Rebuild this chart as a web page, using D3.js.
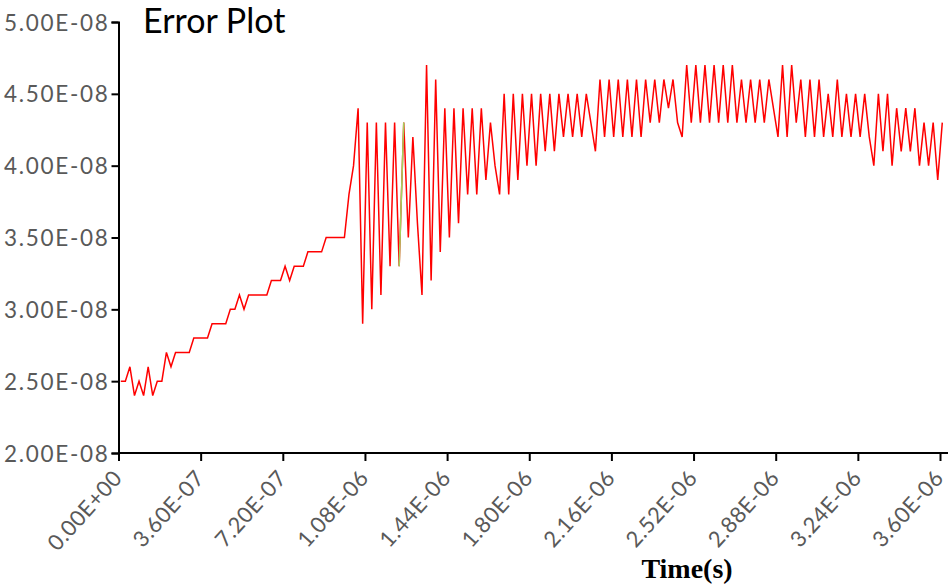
<!DOCTYPE html>
<html>
<head>
<meta charset="utf-8">
<script src="https://cdn.jsdelivr.net/npm/d3@7"></script>
<style>
  html, body { margin: 0; padding: 0; background: #fff; }
  svg { display: block; }
</style>
</head>
<body>
<svg id="chart" width="948" height="586"></svg>
<script>
// Error magnitude sampled every 20 ns (values in units of 1e-8)
const errorValues = [
  2.5, 2.5, 2.6, 2.4, 2.5, 2.4, 2.6, 2.4, 2.5, 2.5,
  2.7, 2.6, 2.7, 2.7, 2.7, 2.7, 2.8, 2.8, 2.8, 2.8,
  2.9, 2.9, 2.9, 2.9, 3.0, 3.0, 3.1, 3.0, 3.1, 3.1,
  3.1, 3.1, 3.1, 3.2, 3.2, 3.2, 3.3, 3.2, 3.3, 3.3,
  3.3, 3.4, 3.4, 3.4, 3.4, 3.5, 3.5, 3.5, 3.5, 3.5,
  3.8, 4.0, 4.4, 2.9, 4.3, 3.0, 4.3, 3.1, 4.3, 3.3,
  4.3, 3.3, 4.3, 3.5, 4.2, 3.6, 3.1, 4.7, 3.2, 4.6,
  3.4, 4.4, 3.5, 4.4, 3.6, 4.4, 3.8, 4.4, 3.8, 4.4,
  3.9, 4.3, 4.0, 3.8, 4.5, 3.8, 4.5, 3.9, 4.5, 4.0,
  4.5, 4.0, 4.5, 4.1, 4.5, 4.1, 4.5, 4.2, 4.5, 4.2,
  4.5, 4.2, 4.5, 4.3, 4.1, 4.6, 4.2, 4.6, 4.2, 4.6,
  4.2, 4.6, 4.2, 4.6, 4.2, 4.6, 4.3, 4.6, 4.3, 4.6,
  4.4, 4.6, 4.3, 4.2, 4.7, 4.3, 4.7, 4.3, 4.7, 4.3,
  4.7, 4.3, 4.7, 4.3, 4.7, 4.3, 4.6, 4.3, 4.6, 4.3,
  4.6, 4.3, 4.6, 4.4, 4.2, 4.7, 4.2, 4.7, 4.3, 4.6,
  4.2, 4.6, 4.2, 4.6, 4.2, 4.5, 4.2, 4.6, 4.2, 4.5,
  4.2, 4.5, 4.2, 4.5, 4.2, 4.0, 4.5, 4.1, 4.5, 4.0,
  4.4, 4.1, 4.4, 4.1, 4.4, 4.0, 4.3, 4.0, 4.3, 3.9,
  4.3
];
const valueUnit = 1e-8;
const timeStart = 1e-8;   // first sample time (s)
const timeStep = 2e-8;    // sampling interval (s)

// Axis ticks
const xTicks = [0, 3.6e-7, 7.2e-7, 1.08e-6, 1.44e-6, 1.8e-6, 2.16e-6, 2.52e-6, 2.88e-6, 3.24e-6, 3.6e-6];
const yTicks = [2.0e-8, 2.5e-8, 3.0e-8, 3.5e-8, 4.0e-8, 4.5e-8, 5.0e-8];

// Segment of the trace drawn in a second colour (sample indices)
const highlightSegment = [61, 62];

const chartTitle = "Error Plot";
const xTitle = "Time(s)";

const points = errorValues.map((v, i) => ({ t: timeStart + i * timeStep, v: v * valueUnit }));

const svg = d3.select("#chart");
const margin = { left: 118.5, top: 22, bottom: 453 };

const x = d3.scaleLinear().domain([0, 3.6e-6]).range([margin.left, 940]);
const y = d3.scaleLinear().domain([2e-8, 5e-8]).range([margin.bottom, margin.top]);

// Format 3.6e-7 -> "3.60E-07"
function sci(v) {
  if (v === 0) return "0.00E+00";
  const s = v.toExponential(2).toUpperCase();
  const [m, e] = s.split("E");
  const n = parseInt(e, 10);
  const ee = (n < 0 ? "-" : "+") + String(Math.abs(n)).padStart(2, "0");
  return m + "E" + ee;
}

const line = d3.line().x(d => x(d.t)).y(d => y(d.v));

// Data trace
svg.append("path")
  .datum(points)
  .attr("fill", "none")
  .attr("stroke", "#ff0000")
  .attr("stroke-width", 1.5)
  .attr("stroke-linejoin", "miter")
  .attr("d", line);

svg.append("path")
  .datum(points.slice(highlightSegment[0], highlightSegment[1] + 1))
  .attr("fill", "none")
  .attr("stroke", "#a2d45e")
  .attr("stroke-width", 1.5)
  .attr("d", line);

const labelFont = "Lato, 'Open Sans', sans-serif";

// Y axis
const yAxis = svg.append("g")
  .attr("transform", `translate(${margin.left},0)`)
  .call(d3.axisLeft(y).tickValues(yTicks).tickFormat(sci).tickSize(7).tickPadding(8));
yAxis.select(".domain").attr("stroke", "#000").attr("stroke-width", 2);
yAxis.selectAll(".tick line").attr("stroke", "#000").attr("stroke-width", 2);
yAxis.selectAll(".tick text")
  .attr("fill", "#595959")
  .style("font-family", labelFont)
  .style("font-size", "22.5px")
  .style("letter-spacing", "1.7px")
  .attr("x", -9)
  .attr("dy", "0.36em");

// X axis
const xAxis = svg.append("g")
  .attr("transform", `translate(0,${margin.bottom})`)
  .call(d3.axisBottom(x).tickValues(xTicks).tickFormat(sci).tickSize(8).tickSizeOuter(0));
xAxis.select(".domain").attr("d", `M${margin.left},0H948`).attr("stroke", "#000").attr("stroke-width", 2);
xAxis.selectAll(".tick line").attr("stroke", "#000").attr("stroke-width", 2);
xAxis.selectAll(".tick text")
  .attr("fill", "#595959")
  .style("font-family", labelFont)
  .style("font-size", "22px")
  .style("letter-spacing", "0.5px")
  .attr("text-anchor", "end")
  .attr("x", 0).attr("y", 0).attr("dy", 0)
  .attr("transform", "translate(4.5,26) rotate(-48)");

// Titles
svg.append("text")
  .attr("x", 143).attr("y", 33)
  .style("font-family", labelFont)
  .style("font-size", "34px")
  .attr("fill", "#000")
  .text(chartTitle);

svg.append("text")
  .attr("x", 687).attr("y", 578)
  .attr("text-anchor", "middle")
  .style("font-family", "'Liberation Serif', 'Times New Roman', serif")
  .style("font-weight", "bold")
  .style("font-size", "28px")
  .attr("fill", "#000")
  .text(xTitle);
</script>
</body>
</html>
